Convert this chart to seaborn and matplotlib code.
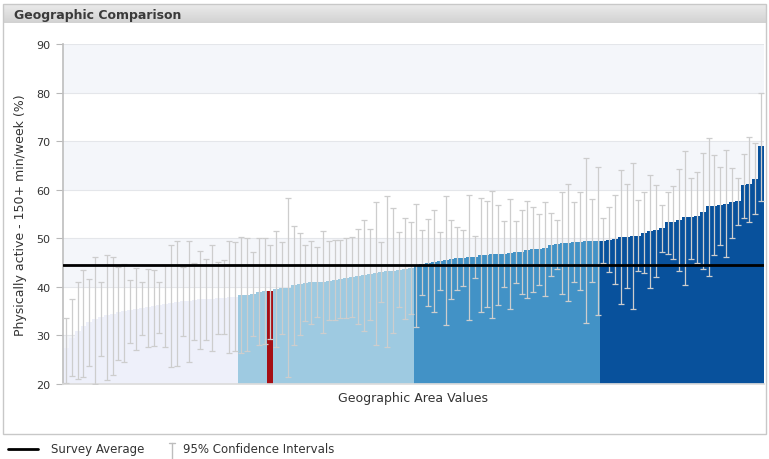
import numpy as np
import pandas as pd
import matplotlib
matplotlib.use('Agg')
import matplotlib.pyplot as plt
import seaborn as sns
from matplotlib.lines import Line2D
from matplotlib.patches import Rectangle

# estimates per geographic area, sorted ascending, split in four groups
q1_vals = [27.5, 29.5, 31.0, 32.0, 32.8, 33.4, 33.8, 34.2, 34.5, 34.8, 35.0, 35.3, 35.5, 35.7, 35.9,
           36.1, 36.3, 36.5, 36.6, 36.8, 37.0, 37.1, 37.3, 37.4, 37.5, 37.6, 37.7, 37.8, 37.9, 38.0]
q1_lo = [20.2, 21.7, 21.0, 21.4, 23.7, 20.1, 25.7, 20.8, 21.9, 24.9, 24.5, 28.4, 27.0, 30.0, 27.7,
         27.9, 30.6, 27.7, 23.4, 23.7, 29.8, 24.5, 29.1, 27.3, 29.1, 26.7, 30.3, 30.3, 26.4, 26.8]
q1_hi = [33.5, 37.4, 40.9, 43.5, 41.6, 46.2, 41.1, 46.6, 46.2, 44.0, 44.8, 41.4, 43.8, 40.9, 43.7,
         43.5, 41.1, 44.5, 48.7, 49.5, 44.0, 49.4, 45.0, 47.3, 45.7, 48.7, 45.2, 45.5, 49.4, 49.2]

q2_vals = [38.3, 38.4, 38.5, 39.0, 39.1, 39.2, 39.6, 39.7, 39.8, 40.3, 40.6, 40.8, 40.9, 41.0, 41.1,
           41.3, 41.4, 41.6, 41.8, 42.0, 42.2, 42.4, 42.6, 42.8, 43.0, 43.2, 43.3, 43.5, 43.7, 43.9]
q2_lo = [26.4, 26.8, 29.9, 28.0, 28.2, 29.3, 27.6, 30.2, 21.4, 28.0, 30.1, 32.9, 32.4, 33.7, 30.6,
         33.2, 33.1, 33.6, 33.5, 33.8, 32.4, 31.0, 33.2, 28.1, 36.8, 27.6, 30.4, 35.8, 33.3, 34.5]
q2_hi = [50.2, 50.0, 47.1, 50.0, 50.0, 48.7, 51.6, 49.2, 58.2, 52.6, 51.1, 48.7, 49.4, 48.3, 51.6,
         49.4, 49.7, 49.6, 50.1, 50.2, 52.0, 53.8, 52.0, 57.5, 49.2, 58.8, 56.2, 51.2, 54.1, 53.3]

q3_vals = [44.5, 44.8, 45.0, 45.2, 45.3, 45.5, 45.7, 45.9, 46.0, 46.1, 46.2, 46.5, 46.6, 46.7, 46.7, 46.8,
           46.9, 47.1, 47.2, 47.5, 47.7, 47.8, 47.9, 48.6, 48.8, 49.0, 49.1, 49.2, 49.3, 49.4, 49.4, 49.4]
q3_lo = [31.7, 38.3, 36.0, 34.8, 39.4, 32.1, 37.5, 39.4, 40.2, 33.1, 41.8, 34.8, 35.9, 33.6, 36.3, 40.0,
         35.4, 40.7, 38.6, 37.8, 39.0, 40.4, 38.2, 42.2, 43.7, 38.5, 37.0, 41.0, 39.4, 32.6, 40.9, 34.3]
q3_hi = [57.1, 51.7, 54.0, 55.8, 51.2, 58.8, 53.8, 52.4, 51.7, 59.0, 50.5, 58.3, 57.6, 59.8, 56.9, 53.5,
         58.1, 53.5, 55.8, 57.6, 56.4, 55.1, 57.4, 55.3, 53.8, 59.5, 61.1, 57.4, 59.5, 66.5, 58.1, 64.6]

q4_vals = [49.4, 49.6, 49.9, 50.2, 50.3, 50.4, 50.5, 51.1, 51.4, 51.8, 52.2, 53.3, 53.4, 53.8,
           54.3, 54.4, 54.5, 55.5, 56.6, 56.7, 56.8, 57.0, 57.5, 57.7, 61.0, 61.2, 62.3, 69.1]
q4_lo = [45.0, 43.0, 40.6, 36.5, 39.8, 35.4, 43.2, 42.8, 39.7, 42.0, 47.1, 46.8, 45.7, 43.2,
         40.4, 45.7, 44.9, 43.7, 42.3, 46.5, 48.7, 46.1, 50.1, 52.8, 54.1, 53.3, 54.9, 57.7]
q4_hi = [54.2, 56.5, 59.0, 64.0, 61.1, 65.4, 57.9, 59.6, 63.0, 61.0, 56.9, 59.6, 60.8, 64.3,
         68.0, 62.5, 63.6, 67.6, 70.6, 67.1, 64.6, 68.2, 64.5, 62.4, 67.4, 70.8, 69.6, 79.9]

selected_area = 35
survey_avg = 44.5

values = np.array(q1_vals + q2_vals + q3_vals + q4_vals)
lower = np.array(q1_lo + q2_lo + q3_lo + q4_lo)
upper = np.array(q1_hi + q2_hi + q3_hi + q4_hi)
groups = (['Q1'] * len(q1_vals) + ['Q2'] * len(q2_vals) +
          ['Q3'] * len(q3_vals) + ['Q4'] * len(q4_vals))
groups[selected_area] = 'Selected'

df = pd.DataFrame({'area': np.arange(len(values)), 'value': values, 'group': groups})
palette = {'Q1': '#eef0fa', 'Q2': '#9ecae1', 'Q3': '#4292c6', 'Q4': '#08519c', 'Selected': '#a50f15'}

sns.set_theme(style='white')
plt.rcParams['font.family'] = ['DejaVu Sans']

fig = plt.figure(figsize=(7.69, 4.60), dpi=100)

# header strip with title
hax = fig.add_axes([3 / 769, 1 - 24 / 460, 763 / 769, 19 / 460])
grad = np.linspace(0, 1, 50).reshape(-1, 1)
hax.imshow(grad, aspect='auto', cmap=matplotlib.colors.LinearSegmentedColormap.from_list(
    'hdr', ['#ebebeb', '#d2d2d2']), extent=[0, 1, 0, 1])
hax.set_axis_off()
fig.text(14 / 769, 1 - 15 / 460, 'Geographic Comparison', fontsize=9, fontweight='bold',
         color='#3a3a3a', va='center', ha='left')
fig.add_artist(Rectangle((3 / 769, 1 - 435 / 460), 763 / 769, 430 / 460, transform=fig.transFigure,
                         fill=False, ec='#c8c8c8', lw=1))

ax = fig.add_axes([63 / 769, 75 / 460, 701 / 769, 340 / 460])
for lo in range(20, 90, 10):
    if (lo // 10) % 2 == 0:
        ax.axhspan(lo, lo + 10, color='#f4f6fa', zorder=0, lw=0)
    ax.axhline(lo, color='#e4e6ea', lw=0.8, zorder=0.5)
ax.axhline(90, color='#e4e6ea', lw=0.8, zorder=0.5)

sns.barplot(data=df, x='area', y='value', hue='group', palette=palette, dodge=False, width=1.0,
            saturation=1, errorbar=None, legend=False, linewidth=0, ax=ax)
ax.errorbar(df['area'], values, yerr=[values - lower, upper - values], fmt='none',
            ecolor='#cdcdcd', elinewidth=0.9, capsize=2, capthick=0.9, zorder=3)
ax.axhline(survey_avg, color='black', lw=2, zorder=4)

ax.set_ylim(20, 90)
ax.set_xlim(-0.5, len(values) - 0.5)
ax.set_yticks(range(20, 91, 10))
ax.set_xticks([])
ax.tick_params(axis='y', left=True, length=5, width=0.8, color='#b8b8b8', labelsize=8,
               labelcolor='#333333', pad=4)
for side in ['top', 'right']:
    ax.spines[side].set_visible(False)
ax.spines['left'].set_color('#c0c0c0')
ax.spines['bottom'].set_color('#dcdcdc')
ax.set_ylabel('Physically active - 150+ min/week (%)', fontsize=9, color='#333333')
ax.yaxis.set_label_coords(-36 / 701, 0.5)
ax.set_xlabel('Geographic Area Values', fontsize=9, color='#333333')
ax.xaxis.set_label_coords(0.5, -7 / 340)

# legend under the frame
ly = 1 - 450 / 460
fig.add_artist(Line2D([8 / 769, 38 / 769], [ly, ly], color='black', lw=2, transform=fig.transFigure))
fig.text(51 / 769, ly, 'Survey Average', fontsize=8.5, color='#333333', va='center')
fig.add_artist(Line2D([172 / 769, 172 / 769], [1 - 444 / 460, 0], color='#bdbdbd', lw=1,
                      transform=fig.transFigure))
fig.add_artist(Line2D([169 / 769, 175 / 769], [1 - 444 / 460, 1 - 444 / 460], color='#bdbdbd', lw=1,
                      transform=fig.transFigure))
fig.text(183 / 769, ly, '95% Confidence Intervals', fontsize=8.5, color='#333333', va='center')

fig.savefig('out.png', dpi=100)
